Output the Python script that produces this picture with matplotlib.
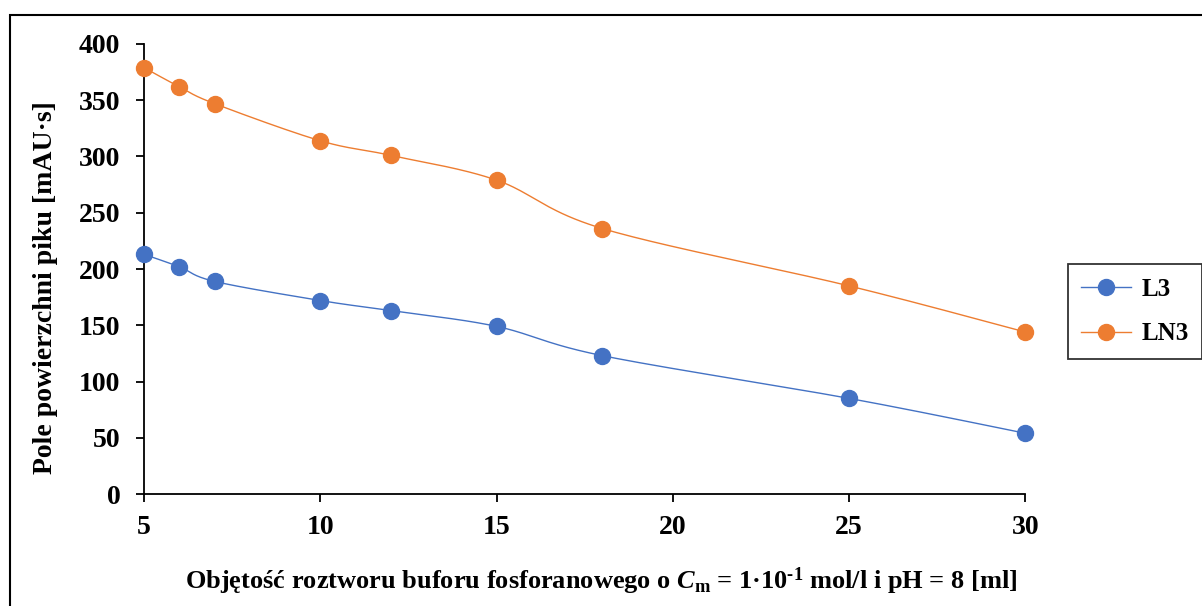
import numpy as np
import matplotlib
matplotlib.use("Agg")
import matplotlib.pyplot as plt
from matplotlib.patches import Rectangle

plt.rcParams['font.family'] = ['Liberation Serif', 'DejaVu Serif']
plt.rcParams['font.weight'] = 'bold'
plt.rcParams['mathtext.fontset'] = 'custom'
plt.rcParams['mathtext.rm'] = 'Liberation Serif:bold'
plt.rcParams['mathtext.it'] = 'Liberation Serif:italic:bold'
plt.rcParams['mathtext.bf'] = 'Liberation Serif:bold'

# Buffer volume [ml]
volume = [5, 6, 7, 10, 12, 15, 18, 25, 30]
# Peak areas [mAU·s]
area_L3 = [213, 202, 189, 172, 163, 149, 123, 85, 54]
area_LN3 = [379, 362, 347, 314, 301, 279, 236, 185, 144]

series_names = ["L3", "LN3"]
series_colors = ["#4472C4", "#ED7D31"]

x_ticks = [5, 10, 15, 20, 25, 30]
y_ticks = [0, 50, 100, 150, 200, 250, 300, 350, 400]


def smooth_curve(x, y, steps=40):
    """Catmull-Rom style Bezier smoothing through every point."""
    x = np.asarray(x, float)
    y = np.asarray(y, float)
    n = len(x)
    xs, ys = [], []
    t = np.linspace(0, 1, steps)
    for i in range(n - 1):
        p0 = np.array([x[i], y[i]])
        p3 = np.array([x[i + 1], y[i + 1]])
        prev = np.array([x[i - 1], y[i - 1]]) if i > 0 else p0
        nxt = np.array([x[i + 2], y[i + 2]]) if i + 2 < n else p3
        c1 = p0 + (p3 - prev) / 6.0
        c2 = p3 - (nxt - p0) / 6.0
        b = ((1 - t) ** 3)[:, None] * p0 + (3 * (1 - t) ** 2 * t)[:, None] * c1 \
            + (3 * (1 - t) * t ** 2)[:, None] * c2 + (t ** 3)[:, None] * p3
        xs.append(b[:, 0])
        ys.append(b[:, 1])
    return np.concatenate(xs), np.concatenate(ys)


fig = plt.figure(figsize=(12.02, 6.06), dpi=100)
ax = fig.add_axes([0.1198, 0.1848, 0.7332, 0.7426])

# Outer chart frame
fig.patches.append(Rectangle((9.5 / 1202, -0.05), 1.2, (606 - 14.5) / 606 + 0.05,
                             transform=fig.transFigure, fill=False,
                             edgecolor='black', linewidth=1.5, zorder=0))

for name, vals, col in zip(series_names, [area_L3, area_LN3], series_colors):
    sx, sy = smooth_curve(volume, vals)
    ax.plot(sx, sy, color=col, linewidth=1.0, clip_on=False)
    ax.plot(volume, vals, linestyle='none', marker='o', markersize=11.5,
            color=col, clip_on=False, zorder=3)
    ax.plot([], [], color=col, linewidth=1.0, marker='o', markersize=11.5, label=name)

ax.set_xlim(5, 30)
ax.set_ylim(0, 400)
ax.set_xticks(x_ticks)
ax.set_yticks(y_ticks)
ax.spines['top'].set_visible(False)
ax.spines['right'].set_visible(False)
for s in ('left', 'bottom'):
    ax.spines[s].set_linewidth(1.3)
ax.tick_params(axis='both', direction='out', length=6, width=1.3, labelsize=20)
ax.tick_params(axis='y', pad=11)
ax.tick_params(axis='x', pad=9)
for lab in ax.get_xticklabels() + ax.get_yticklabels():
    lab.set_fontweight('bold')

ax.set_ylabel("Pole powierzchni piku [mAU·s]", fontsize=20, fontweight='bold')
ax.yaxis.set_label_coords(-0.0976, 0.458)
ax.set_xlabel(r"Objętość roztworu buforu fosforanowego o $\mathit{C}_{\mathrm{m}}$"
              r" = 1·10$^{\text{-1}}$ mol/l i pH = 8 [ml]",
              fontsize=19, fontweight='bold')
ax.xaxis.set_label_coords(0.519, -0.158)

leg = ax.legend(loc='center left', bbox_to_anchor=(1.048, 0.405), frameon=True,
                fancybox=False, edgecolor='black',
                prop={'weight': 'bold', 'size': 18}, handlelength=2.0,
                borderpad=0.55, labelspacing=0.85, handletextpad=0.4,
                borderaxespad=0)
leg.get_frame().set_linewidth(1.3)

fig.savefig("out.png", dpi=100)
